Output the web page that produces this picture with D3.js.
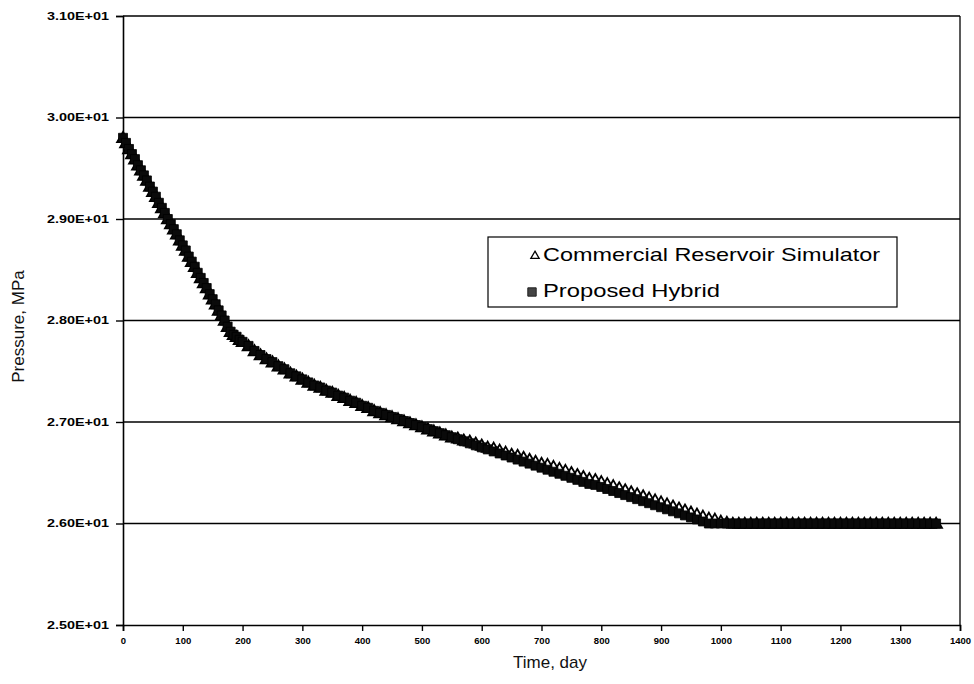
<!DOCTYPE html>
<html>
<head>
<meta charset="utf-8">
<script src="https://cdn.jsdelivr.net/npm/d3@7"></script>
<style>
  body { margin: 0; background: #fff; }
  svg { display: block; }
</style>
</head>
<body>
<svg id="chart" width="974" height="684"></svg>
<script>
// Simulation time, days
const days = [
  0, 5, 10, 15, 20, 25, 30, 35, 40, 45, 50, 55, 60, 65, 70, 75, 80, 85, 90, 95,
  100, 105, 110, 115, 120, 125, 130, 135, 140, 145, 150, 155, 160, 165, 170, 175, 180, 185, 190, 195, 200,
  210, 220, 230, 240, 250, 260, 270, 280, 290, 300, 310, 320, 330, 340, 350, 360, 370, 380, 390, 400,
  410, 420, 430, 440, 450, 460, 470, 480, 490, 500, 510, 520, 530, 540, 550, 560, 570, 580, 590, 600,
  610, 620, 630, 640, 650, 660, 670, 680, 690, 700, 710, 720, 730, 740, 750, 760, 770, 780, 790, 800,
  810, 820, 830, 840, 850, 860, 870, 880, 890, 900, 910, 920, 930, 940, 950, 960, 970, 980, 990, 1000,
  1010, 1020, 1030, 1040, 1050, 1060, 1070, 1080, 1090, 1100, 1110, 1120, 1130, 1140, 1150, 1160, 1170, 1180, 1190, 1200,
  1210, 1220, 1230, 1240, 1250, 1260, 1270, 1280, 1290, 1300, 1310, 1320, 1330, 1340, 1350, 1360
];

// Reservoir pressure, MPa — commercial simulator
const simulatorPressure = [
  29.80, 29.75, 29.69, 29.64, 29.59, 29.53, 29.48, 29.43, 29.38, 29.32, 29.27, 29.22, 29.16, 29.11, 29.06, 29.00, 28.95, 28.90, 28.85, 28.79,
  28.74, 28.69, 28.63, 28.58, 28.53, 28.47, 28.42, 28.37, 28.32, 28.26, 28.21, 28.16, 28.10, 28.05, 28.00, 27.94, 27.89, 27.86, 27.84, 27.81, 27.79,
  27.75, 27.70, 27.66, 27.62, 27.59, 27.55, 27.52, 27.48, 27.45, 27.42, 27.39, 27.36, 27.34, 27.31, 27.29, 27.26, 27.24, 27.21, 27.19, 27.16,
  27.14, 27.11, 27.09, 27.07, 27.05, 27.03, 27.01, 26.99, 26.97, 26.95, 26.93, 26.91, 26.89, 26.87, 26.85, 26.84, 26.82, 26.81, 26.79, 26.77,
  26.75, 26.74, 26.72, 26.70, 26.68, 26.67, 26.65, 26.63, 26.61, 26.59, 26.58, 26.56, 26.54, 26.52, 26.50, 26.48, 26.46, 26.44, 26.43, 26.41,
  26.39, 26.37, 26.35, 26.33, 26.31, 26.29, 26.27, 26.25, 26.23, 26.21, 26.19, 26.17, 26.15, 26.13, 26.11, 26.09, 26.07, 26.05, 26.04, 26.02,
  26.01, 26.00, 26.00, 26.00, 26.00, 26.00, 26.00, 26.00, 26.00, 26.00, 26.00, 26.00, 26.00, 26.00, 26.00, 26.00, 26.00, 26.00, 26.00, 26.00,
  26.00, 26.00, 26.00, 26.00, 26.00, 26.00, 26.00, 26.00, 26.00, 26.00, 26.00, 26.00, 26.00, 26.00, 26.00, 26.00
];

// Reservoir pressure, MPa — proposed hybrid model
const hybridPressure = [
  29.80, 29.75, 29.69, 29.64, 29.59, 29.53, 29.48, 29.43, 29.38, 29.32, 29.27, 29.22, 29.16, 29.11, 29.06, 29.00, 28.95, 28.90, 28.85, 28.79,
  28.74, 28.69, 28.63, 28.58, 28.53, 28.47, 28.42, 28.37, 28.32, 28.26, 28.21, 28.16, 28.10, 28.05, 28.00, 27.94, 27.89, 27.86, 27.84, 27.81, 27.79,
  27.75, 27.70, 27.66, 27.62, 27.59, 27.55, 27.52, 27.48, 27.45, 27.42, 27.39, 27.36, 27.34, 27.31, 27.29, 27.26, 27.24, 27.21, 27.19, 27.16,
  27.14, 27.11, 27.09, 27.07, 27.05, 27.03, 27.01, 26.99, 26.97, 26.95, 26.93, 26.91, 26.89, 26.87, 26.85, 26.83, 26.81, 26.79, 26.77, 26.75,
  26.73, 26.71, 26.69, 26.67, 26.65, 26.63, 26.61, 26.59, 26.57, 26.55, 26.53, 26.51, 26.49, 26.47, 26.45, 26.43, 26.41, 26.39, 26.38, 26.36,
  26.34, 26.32, 26.30, 26.28, 26.26, 26.24, 26.22, 26.20, 26.18, 26.16, 26.14, 26.12, 26.10, 26.08, 26.06, 26.04, 26.02, 26.00, 26.00, 26.00,
  26.00, 26.00, 26.00, 26.00, 26.00, 26.00, 26.00, 26.00, 26.00, 26.00, 26.00, 26.00, 26.00, 26.00, 26.00, 26.00, 26.00, 26.00, 26.00, 26.00,
  26.00, 26.00, 26.00, 26.00, 26.00, 26.00, 26.00, 26.00, 26.00, 26.00, 26.00, 26.00, 26.00, 26.00, 26.00, 26.00
];

const pressureTicks = [25, 26, 27, 28, 29, 30, 31];
const timeTicks = [0, 100, 200, 300, 400, 500, 600, 700, 800, 900, 1000, 1100, 1200, 1300, 1400];
const seriesNames = ["Commercial Reservoir Simulator", "Proposed Hybrid"];

const FONT = "'Liberation Sans', Arial, sans-serif";
const svg = d3.select("#chart");

const plot = { left: 123, right: 960, top: 16, bottom: 625 };
const x = d3.scaleLinear().domain([0, 1400]).range([plot.left, plot.right]);
const y = d3.scaleLinear().domain([25, 31]).range([plot.bottom, plot.top]);

// Excel-style scientific labels, e.g. 3.10E+01
const sci = d => {
  const [m, e] = d.toExponential(2).split("e");
  const n = Math.abs(+e);
  return m + "E" + (+e < 0 ? "-" : "+") + (n < 10 ? "0" + n : "" + n);
};

// Horizontal gridlines
svg.append("g")
  .selectAll("line")
  .data(pressureTicks.slice(1))
  .join("line")
  .attr("x1", plot.left).attr("x2", plot.right)
  .attr("y1", d => y(d)).attr("y2", d => y(d))
  .attr("stroke", "#000").attr("stroke-width", 1.6);

// Right border of the plot area
svg.append("line")
  .attr("x1", plot.right).attr("x2", plot.right)
  .attr("y1", plot.top).attr("y2", plot.bottom)
  .attr("stroke", "#000").attr("stroke-width", 1.3);

// Y axis
const yAxis = svg.append("g")
  .attr("transform", `translate(${plot.left},0)`)
  .call(d3.axisLeft(y).tickValues(pressureTicks).tickSize(7).tickPadding(7).tickFormat(sci));
yAxis.select(".domain").attr("stroke", "#000").attr("stroke-width", 1.6);
yAxis.selectAll(".tick line").attr("stroke", "#000").attr("stroke-width", 1.4);
yAxis.selectAll(".tick text")
  .attr("font-family", FONT).attr("font-size", 10).attr("font-weight", "bold")
  .attr("fill", "#000")
  .attr("textLength", 62).attr("lengthAdjust", "spacingAndGlyphs");

// X axis
const xAxis = svg.append("g")
  .attr("transform", `translate(0,${plot.bottom})`)
  .call(d3.axisBottom(x).tickValues(timeTicks).tickSize(6).tickPadding(6).tickFormat(d3.format("d")));
xAxis.select(".domain").attr("stroke", "#000").attr("stroke-width", 1.6);
xAxis.selectAll(".tick line").attr("stroke", "#000").attr("stroke-width", 1.4);
xAxis.selectAll(".tick text")
  .attr("font-family", FONT).attr("font-size", 9.5).attr("font-weight", "bold")
  .attr("fill", "#000");

// Axis titles
svg.append("text")
  .attr("transform", `translate(24,${(plot.top + plot.bottom) / 2 + 6}) rotate(-90)`)
  .attr("text-anchor", "middle")
  .attr("font-family", FONT).attr("font-size", 17).attr("fill", "#111")
  .text("Pressure, MPa");

svg.append("text")
  .attr("x", 550).attr("y", 668)
  .attr("text-anchor", "middle")
  .attr("font-family", FONT).attr("font-size", 17).attr("fill", "#111")
  .text("Time, day");

// Series markers: open triangles underneath, solid squares on top
const simRows = days.map((d, i) => ({ t: d, p: simulatorPressure[i] }));
const hybRows = days.map((d, i) => ({ t: d, p: hybridPressure[i] }));

const square = d3.symbol().type(d3.symbolSquare).size(81);
const triangle = d3.symbol().type(d3.symbolTriangle).size(60);

svg.append("g")
  .selectAll("path")
  .data(simRows)
  .join("path")
  .attr("d", triangle)
  .attr("transform", d => `translate(${x(d.t)},${y(d.p) + 1})`)
  .attr("fill", "#fff").attr("stroke", "#000").attr("stroke-width", 1.8);

svg.append("g")
  .selectAll("path")
  .data(hybRows)
  .join("path")
  .attr("d", square)
  .attr("transform", d => `translate(${x(d.t)},${y(d.p)})`)
  .attr("fill", "#0a0a0a").attr("stroke", "#000").attr("stroke-width", 0.8);

// Legend
const legend = svg.append("g");
legend.append("rect")
  .attr("x", 488).attr("y", 237).attr("width", 409).attr("height", 70)
  .attr("fill", "#fff").attr("stroke", "#000").attr("stroke-width", 1.2);

legend.append("path")
  .attr("d", d3.symbol().type(d3.symbolTriangle).size(30))
  .attr("transform", "translate(535,256)")
  .attr("fill", "#fff").attr("stroke", "#000").attr("stroke-width", 1.3);
legend.append("path")
  .attr("d", d3.symbol().type(d3.symbolSquare).size(70))
  .attr("transform", "translate(532,292)")
  .attr("fill", "#444").attr("stroke", "#222").attr("stroke-width", 1);

legend.selectAll("text")
  .data(seriesNames)
  .join("text")
  .attr("x", 543)
  .attr("y", (d, i) => 261 + i * 36)
  .attr("font-family", FONT).attr("font-size", 19).attr("fill", "#000")
  .attr("textLength", (d, i) => i === 0 ? 337 : 177)
  .attr("lengthAdjust", "spacingAndGlyphs")
  .text(d => d);
</script>
</body>
</html>
